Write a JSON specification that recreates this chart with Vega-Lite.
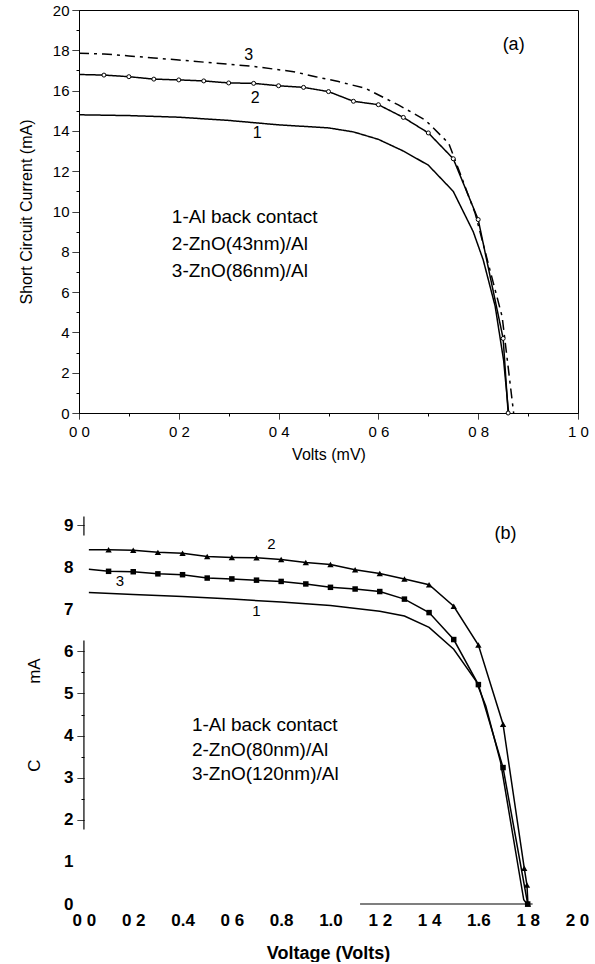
{
  "$schema": "https://vega.github.io/schema/vega-lite/v6.json",
  "padding": {"left": 17, "top": 2, "right": 0, "bottom": 0},
  "spacing": 52,
  "config": {
    "font": "Liberation Sans",
    "view": {"stroke": null},
    "axis": {"grid": false, "domainColor": "black", "tickColor": "black", "labelColor": "black", "titleColor": "black", "labelFont": "Liberation Sans", "titleFont": "Liberation Sans", "titleFontWeight": "normal", "domainWidth": 1, "tickWidth": 1, "labelOverlap": false, "labelFlush": false},
    "text": {"font": "Liberation Sans", "color": "black"}
  },
  "datasets": {
    "a_lines": [
      {"curve": "1", "V": 0, "I": 14.8}, {"curve": "1", "V": 0.1, "I": 14.76}, {"curve": "1", "V": 0.2, "I": 14.68}, {"curve": "1", "V": 0.3, "I": 14.52}, {"curve": "1", "V": 0.4, "I": 14.3}, {"curve": "1", "V": 0.5, "I": 14.15}, {"curve": "1", "V": 0.55, "I": 13.95}, {"curve": "1", "V": 0.6, "I": 13.58}, {"curve": "1", "V": 0.65, "I": 13.0}, {"curve": "1", "V": 0.7, "I": 12.3}, {"curve": "1", "V": 0.75, "I": 11.0}, {"curve": "1", "V": 0.79, "I": 9.0}, {"curve": "1", "V": 0.81, "I": 7.6}, {"curve": "1", "V": 0.834, "I": 5.3}, {"curve": "1", "V": 0.851, "I": 2.6}, {"curve": "1", "V": 0.861, "I": 0},
      {"curve": "2", "V": 0, "I": 16.8}, {"curve": "2", "V": 0.05, "I": 16.77}, {"curve": "2", "V": 0.1, "I": 16.69}, {"curve": "2", "V": 0.15, "I": 16.57}, {"curve": "2", "V": 0.2, "I": 16.53}, {"curve": "2", "V": 0.25, "I": 16.48}, {"curve": "2", "V": 0.3, "I": 16.38}, {"curve": "2", "V": 0.35, "I": 16.36}, {"curve": "2", "V": 0.4, "I": 16.24}, {"curve": "2", "V": 0.45, "I": 16.16}, {"curve": "2", "V": 0.5, "I": 15.95}, {"curve": "2", "V": 0.55, "I": 15.47}, {"curve": "2", "V": 0.6, "I": 15.3}, {"curve": "2", "V": 0.65, "I": 14.67}, {"curve": "2", "V": 0.7, "I": 13.9}, {"curve": "2", "V": 0.75, "I": 12.62}, {"curve": "2", "V": 0.8, "I": 9.6}, {"curve": "2", "V": 0.85, "I": 3.7}, {"curve": "2", "V": 0.86, "I": 0},
      {"curve": "3", "V": 0, "I": 17.85}, {"curve": "3", "V": 0.05, "I": 17.82}, {"curve": "3", "V": 0.1, "I": 17.72}, {"curve": "3", "V": 0.15, "I": 17.62}, {"curve": "3", "V": 0.2, "I": 17.52}, {"curve": "3", "V": 0.27, "I": 17.37}, {"curve": "3", "V": 0.35, "I": 17.2}, {"curve": "3", "V": 0.43, "I": 16.94}, {"curve": "3", "V": 0.474, "I": 16.69}, {"curve": "3", "V": 0.52, "I": 16.45}, {"curve": "3", "V": 0.574, "I": 16.11}, {"curve": "3", "V": 0.64, "I": 15.29}, {"curve": "3", "V": 0.694, "I": 14.54}, {"curve": "3", "V": 0.741, "I": 13.38}, {"curve": "3", "V": 0.794, "I": 9.9}, {"curve": "3", "V": 0.848, "I": 4.78}, {"curve": "3", "V": 0.871, "I": 0}
    ],
    "a_text": [
      {"V": 0.34, "I": 17.77, "t": "3"},
      {"V": 0.353, "I": 15.63, "t": "2"},
      {"V": 0.357, "I": 13.9, "t": "1"}
    ],
    "a_legend": [
      {"V": 0.186, "I": 9.73, "t": "1-Al back contact"},
      {"V": 0.186, "I": 8.39, "t": "2-ZnO(43nm)/Al"},
      {"V": 0.186, "I": 7.05, "t": "3-ZnO(86nm)/Al"}
    ],
    "a_tag": [{"V": 0.871, "I": 18.26, "t": "(a)"}],
    "b_lines": [
      {"curve": "1", "V": 0.02, "I": 7.4}, {"curve": "1", "V": 0.2, "I": 7.35}, {"curve": "1", "V": 0.4, "I": 7.3}, {"curve": "1", "V": 0.6, "I": 7.24}, {"curve": "1", "V": 0.8, "I": 7.17}, {"curve": "1", "V": 1.0, "I": 7.09}, {"curve": "1", "V": 1.2, "I": 6.95}, {"curve": "1", "V": 1.3, "I": 6.84}, {"curve": "1", "V": 1.4, "I": 6.57}, {"curve": "1", "V": 1.5, "I": 6.05}, {"curve": "1", "V": 1.59, "I": 5.3}, {"curve": "1", "V": 1.63, "I": 4.7}, {"curve": "1", "V": 1.69, "I": 3.37}, {"curve": "1", "V": 1.784, "I": 0.1}, {"curve": "1", "V": 1.797, "I": 0},
      {"curve": "2", "V": 0.02, "I": 8.41}, {"curve": "2", "V": 0.1, "I": 8.41}, {"curve": "2", "V": 0.2, "I": 8.4}, {"curve": "2", "V": 0.3, "I": 8.35}, {"curve": "2", "V": 0.4, "I": 8.33}, {"curve": "2", "V": 0.5, "I": 8.25}, {"curve": "2", "V": 0.6, "I": 8.23}, {"curve": "2", "V": 0.7, "I": 8.22}, {"curve": "2", "V": 0.8, "I": 8.18}, {"curve": "2", "V": 0.9, "I": 8.11}, {"curve": "2", "V": 1.0, "I": 8.06}, {"curve": "2", "V": 1.1, "I": 7.94}, {"curve": "2", "V": 1.2, "I": 7.85}, {"curve": "2", "V": 1.3, "I": 7.72}, {"curve": "2", "V": 1.4, "I": 7.58}, {"curve": "2", "V": 1.5, "I": 7.07}, {"curve": "2", "V": 1.6, "I": 6.15}, {"curve": "2", "V": 1.7, "I": 4.27}, {"curve": "2", "V": 1.786, "I": 0.85}, {"curve": "2", "V": 1.797, "I": 0.45}, {"curve": "2", "V": 1.801, "I": 0},
      {"curve": "3", "V": 0.02, "I": 7.95}, {"curve": "3", "V": 0.1, "I": 7.9}, {"curve": "3", "V": 0.2, "I": 7.89}, {"curve": "3", "V": 0.3, "I": 7.84}, {"curve": "3", "V": 0.4, "I": 7.82}, {"curve": "3", "V": 0.5, "I": 7.74}, {"curve": "3", "V": 0.6, "I": 7.72}, {"curve": "3", "V": 0.7, "I": 7.69}, {"curve": "3", "V": 0.8, "I": 7.66}, {"curve": "3", "V": 0.9, "I": 7.6}, {"curve": "3", "V": 1.0, "I": 7.52}, {"curve": "3", "V": 1.1, "I": 7.48}, {"curve": "3", "V": 1.2, "I": 7.42}, {"curve": "3", "V": 1.3, "I": 7.24}, {"curve": "3", "V": 1.4, "I": 6.92}, {"curve": "3", "V": 1.5, "I": 6.28}, {"curve": "3", "V": 1.6, "I": 5.21}, {"curve": "3", "V": 1.7, "I": 3.24}, {"curve": "3", "V": 1.8, "I": 0}
    ],
    "b_axis": [
      {"V": 0, "V2": 0, "I": 8.75, "I2": 9.2},
      {"V": 0, "V2": 0, "I": 1.77, "I2": 6.26},
      {"V": 1.12, "V2": 1.82, "I": 0, "I2": 0}
    ],
    "b_text": [
      {"V": 0.76, "I": 8.55, "t": "2"},
      {"V": 0.7, "I": 6.95, "t": "1"},
      {"V": 0.146, "I": 7.68, "t": "3"}
    ],
    "b_legend": [
      {"V": 0.438, "I": 4.26, "t": "1-Al back contact"},
      {"V": 0.438, "I": 3.65, "t": "2-ZnO(80nm)/Al"},
      {"V": 0.438, "I": 3.08, "t": "3-ZnO(120nm)/Al"}
    ],
    "b_tag": [{"V": 1.71, "I": 8.78, "t": "(b)"}]
  },
  "vconcat": [
    {
      "width": 499,
      "height": 403,
      "view": {"stroke": "black", "strokeWidth": 1},
      "encoding": {
        "x": {"field": "V", "type": "quantitative", "scale": {"domain": [0, 1], "nice": false},
          "axis": {"values": [0, 0.1, 0.2, 0.3, 0.4, 0.5, 0.6, 0.7, 0.8, 0.9, 1.0],
            "labelExpr": "round(datum.value*10) % 2 === 0 ? replace(format(datum.value, '.1f'), '.', ' ') : ''",
            "tickSize": 6,
            "tickDash": {"condition": {"test": "round(datum.value*10) % 2 !== 0", "value": [3, 20]}, "value": [1, 0]},
            "labelFontSize": 15, "labelPadding": 5, "title": "Volts (mV)", "titleFontSize": 16, "titlePadding": 7}},
        "y": {"field": "I", "type": "quantitative", "scale": {"domain": [0, 20], "nice": false},
          "axis": {"values": [0,1,2,3,4,5,6,7,8,9,10,11,12,13,14,15,16,17,18,19,20],
            "labelExpr": "datum.value % 2 === 0 ? datum.label : ''",
            "tickSize": 7,
            "tickDash": {"condition": {"test": "datum.value % 2 !== 0", "value": [3, 20]}, "value": [1, 0]},
            "labelFontSize": 15, "labelPadding": 3, "title": "Short Circuit Current (mA)", "titleFontSize": 16, "titlePadding": 18}}
      },
      "layer": [
        {
          "data": {"name": "a_lines"},
          "mark": {"type": "line", "color": "black", "strokeWidth": 1.5},
          "encoding": {
            "detail": {"field": "curve", "type": "nominal"},
            "strokeDash": {"field": "curve", "type": "nominal", "scale": {"domain": ["1", "2", "3"], "range": [[1, 0], [1, 0], [10, 5, 3, 5]]}, "legend": null}
          }
        },
        {
          "data": {"name": "a_lines"},
          "transform": [{"filter": "datum.curve === '2' && datum.V > 0"}],
          "mark": {"type": "point", "shape": "circle", "filled": true, "fill": "white", "stroke": "black", "strokeWidth": 1, "size": 16, "opacity": 1}
        },
        {
          "data": {"name": "a_text"},
          "mark": {"type": "text", "fontSize": 16, "align": "center", "baseline": "middle"},
          "encoding": {"text": {"field": "t"}}
        },
        {
          "data": {"name": "a_legend"},
          "mark": {"type": "text", "fontSize": 19, "align": "left", "baseline": "middle"},
          "encoding": {"text": {"field": "t"}}
        },
        {
          "data": {"name": "a_tag"},
          "mark": {"type": "text", "fontSize": 18, "align": "center", "baseline": "middle"},
          "encoding": {"text": {"field": "t"}}
        }
      ]
    },
    {
      "width": 498,
      "height": 379,
      "encoding": {
        "x": {"field": "V", "type": "quantitative", "scale": {"domain": [-0.02, 2.0], "nice": false},
          "axis": {"values": [0, 0.2, 0.4, 0.6, 0.8, 1.0, 1.2, 1.4, 1.6, 1.8, 2.0], "domain": false, "ticks": false,
            "labelExpr": "indexof(['0.4','0.8','1.0','1.6'], format(datum.value, '.1f')) >= 0 ? format(datum.value, '.1f') : replace(format(datum.value, '.1f'), '.', ' ')",
            "labelFontSize": 17, "labelFontWeight": "bold", "labelPadding": 8,
            "title": "Voltage (Volts)", "titleFontSize": 18, "titleFontWeight": "bold", "titlePadding": 16}},
        "y": {"field": "I", "type": "quantitative", "scale": {"domain": [0, 9], "nice": false},
          "axis": {"values": [0, 1, 2, 2.5, 3, 3.5, 4, 4.5, 5, 5.5, 6, 7, 8, 9], "domain": false, "offset": -5,
            "labelExpr": "datum.value % 1 === 0 ? format(datum.value, 'd') : ''",
            "tickSize": 7,
            "tickDash": {"condition": {"test": "datum.value % 1 !== 0", "value": [3, 20]}, "value": [1, 0]},
            "tickOpacity": {"condition": {"test": "(datum.value >= 2 && datum.value <= 6) || datum.value === 9", "value": 1}, "value": 0},
            "labelFontSize": 17, "labelFontWeight": "bold", "labelPadding": 4,
            "title": "C\u00a0\u00a0\u00a0\u00a0\u00a0\u00a0\u00a0\u00a0\u00a0\u00a0\u00a0\u00a0\u00a0\u00a0\u00a0\u00a0mA", "titleFontSize": 17, "titlePadding": 20}}
      },
      "layer": [
        {
          "data": {"name": "b_axis"},
          "mark": {"type": "rule", "color": "black", "strokeWidth": 1.2},
          "encoding": {"x2": {"field": "V2"}, "y2": {"field": "I2"}}
        },
        {
          "data": {"name": "b_lines"},
          "mark": {"type": "line", "color": "black", "strokeWidth": 1.5},
          "encoding": {"detail": {"field": "curve", "type": "nominal"}}
        },
        {
          "data": {"name": "b_lines"},
          "transform": [{"filter": "datum.curve !== '1' && datum.V >= 0.05"}],
          "mark": {"type": "point", "filled": true, "color": "black", "opacity": 1},
          "encoding": {
            "shape": {"field": "curve", "type": "nominal", "scale": {"domain": ["2", "3"], "range": ["triangle-up", "square"]}, "legend": null},
            "size": {"field": "curve", "type": "nominal", "scale": {"domain": ["2", "3"], "range": [40, 30]}, "legend": null}
          }
        },
        {
          "data": {"name": "b_text"},
          "mark": {"type": "text", "fontSize": 15, "align": "center", "baseline": "middle"},
          "encoding": {"text": {"field": "t"}}
        },
        {
          "data": {"name": "b_legend"},
          "mark": {"type": "text", "fontSize": 19, "align": "left", "baseline": "middle"},
          "encoding": {"text": {"field": "t"}}
        },
        {
          "data": {"name": "b_tag"},
          "mark": {"type": "text", "fontSize": 18, "align": "center", "baseline": "middle"},
          "encoding": {"text": {"field": "t"}}
        }
      ]
    }
  ]
}
